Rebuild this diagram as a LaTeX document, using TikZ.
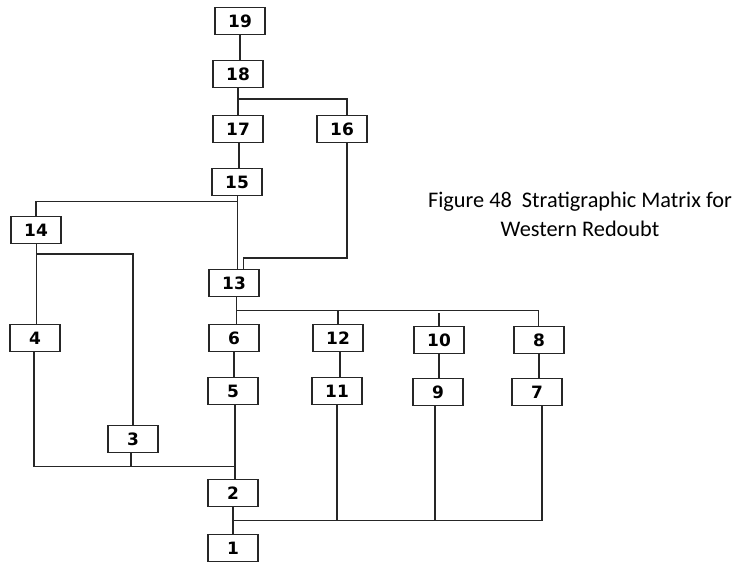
\documentclass[tikz,border=0pt]{standalone}
\usepackage{fontspec}
\newfontfamily\boxfont{DejaVu Sans}
\newfontfamily\capfont{Carlito}
\begin{document}
\begin{tikzpicture}[x=1pt,y=-1pt,
  unit/.style={draw=black!85,line width=1.1pt,minimum width=50pt,minimum height=27pt,inner sep=0pt,
    font=\boxfont\bfseries\fontsize{17}{18}\selectfont},
  conn/.style={draw=black!85,line width=1.1pt}]
\useasboundingbox (0,0) rectangle (735,565);
\node[unit] (n19) at (240,21) {19};
\node[unit] (n18) at (238,74) {18};
\node[unit] (n17) at (238,129) {17};
\node[unit] (n16) at (342,129) {16};
\node[unit] (n15) at (237,182) {15};
\node[unit] (n14) at (36,230) {14};
\node[unit] (n13) at (234,283) {13};
\node[unit] (n4) at (35,338) {4};
\node[unit] (n6) at (234,338) {6};
\node[unit] (n12) at (338,338) {12};
\node[unit] (n10) at (439,340) {10};
\node[unit] (n8) at (539,340) {8};
\node[unit] (n5) at (233,391) {5};
\node[unit] (n11) at (337,391) {11};
\node[unit] (n9) at (438,392) {9};
\node[unit] (n7) at (537,392) {7};
\node[unit] (n3) at (133,439) {3};
\node[unit] (n2) at (233,493) {2};
\node[unit] (n1) at (233,548) {1};
\node[align=center,font=\capfont\fontsize{22.3}{29}\selectfont] (cap) at (580,214)
  {Figure 48\ \ Stratigraphic Matrix for\\Western Redoubt};
% junctions
\coordinate (j18) at (238,99);
\coordinate (j15) at (237.5,201.3);
\coordinate (j16) at (243.3,258);
\coordinate (j14) at (36.5,254);
\coordinate (j13) at (236.3,310.5);
\coordinate (j2top) at (235,466.7);
\coordinate (j1) at (233.3,520.7);
% connectors
\draw[conn] (n19.south) -- (n19.south |- n18.north);
\draw[conn] (n18.south) -- (n17.north);
\draw[conn] (j18) -| ([xshift=5pt]n16.north);
\draw[conn] ([xshift=1pt]n17.south) -- ([xshift=1pt]n17.south |- n15.north);
\draw[conn] (j15 |- n15.south) -- (j15 |- n13.north);
\draw[conn] (j15) -| (n14.north);
\draw[conn] ([xshift=5pt]n16.south) |- (j16) -- (j16 |- n13.north);
\draw[conn] (j14 |- n14.south) -- (j14 |- n4.north);
\draw[conn] (j14) -| (n3.north);
\draw[conn] (j13 |- n13.south) -- (j13 |- n6.north);
\draw[conn] (j13) -| ([xshift=-0.7pt]n8.north);
\draw[conn] (n12.north) -- (n12.north |- j13);
\draw[conn] (n10.north) -- ([yshift=-2pt]n10.north |- j13);
\draw[conn] (n6.south) -- (n6.south |- n5.north);
\draw[conn] ([xshift=2pt]n12.south) -- ([xshift=2pt]n12.south |- n11.north);
\draw[conn] (n10.south) -- (n10.south |- n9.north);
\draw[conn] (n8.south) -- (n8.south |- n7.north);
\draw[conn] ([xshift=-1pt]n4.south) |- (j2top);
\draw[conn] ([xshift=-2pt]n3.south) -- ([xshift=-2pt]n3.south |- j2top);
\draw[conn] (j2top |- n5.south) -- (j2top |- n2.north);
\draw[conn] (n2.south) -- (n2.south |- n1.north);
\draw[conn] (j1) -| ([xshift=5pt]n7.south);
\draw[conn] (n11.south) -- (n11.south |- j1);
\draw[conn] ([xshift=-3pt]n9.south) -- ([xshift=-3pt]n9.south |- j1);
\end{tikzpicture}
\end{document}
